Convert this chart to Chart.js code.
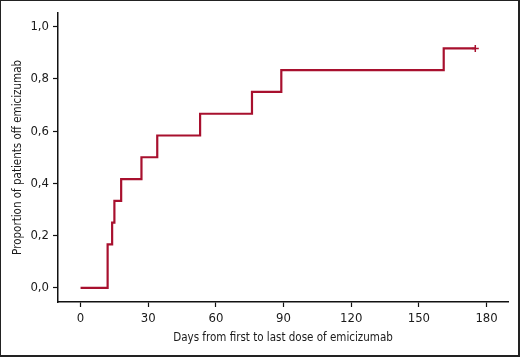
<!DOCTYPE html>
<html>
<head>
<meta charset="utf-8">
<script src="https://cdn.jsdelivr.net/npm/chart.js@4.4.0/dist/chart.umd.min.js"></script>
<style>
    body { margin: 0; background: #fff; }
    #quadro {
        width: 520px; height: 357px; box-sizing: border-box;
        border-top: 1px solid #222; border-left: 1px solid #222;
        border-right: 2px solid #222; border-bottom: 2px solid #222;
        position: relative;
    }
</style>
</head>
<body>
<div id="quadro"><canvas id="grafico"></canvas></div>
<script>
// dias do evento e proporção acumulada (12 pacientes)
var dias = [0, 12, 14, 15, 18, 27, 34, 53, 76, 89, 161, 175];
var proporcao = [0, 2/12, 3/12, 4/12, 5/12, 6/12, 7/12, 8/12, 9/12, 10/12, 11/12, 11/12];
// ponto censurado
var censuraDia = [175];
var censuraValor = [11/12];

var ticksX = [0, 30, 60, 90, 120, 150, 180];
var ticksY = [0, 0.2, 0.4, 0.6, 0.8, 1.0];

var fonte = "'Liberation Sans Narrow', 'DejaVu Sans Condensed', sans-serif";
var vermelho = '#a8102e';

var pontos = dias.map(function (d, i) { return { x: d, y: proporcao[i] }; });
var censura = censuraDia.map(function (d, i) { return { x: d, y: censuraValor[i] }; });

const ctx = document.getElementById('grafico');
ctx.width = 517; ctx.height = 354;

new Chart(ctx, {
    type: 'line',
    data: {
        datasets: [
            {
                data: pontos,
                borderColor: vermelho,
                borderWidth: 2.2,
                stepped: true,
                pointRadius: 0,
                fill: false
            },
            {
                type: 'scatter',
                data: censura,
                borderColor: vermelho,
                pointStyle: 'cross',
                pointRadius: 3.5,
                borderWidth: 1.5
            }
        ]
    },
    options: {
        responsive: false,
        animation: false,
        layout: { padding: { top: 10, right: 10, left: 0, bottom: 0 } },
        plugins: { legend: { display: false }, tooltip: { enabled: false } },
        scales: {
            x: {
                type: 'linear',
                min: -10,
                max: 189.5,
                afterBuildTicks: function (s) { s.ticks = ticksX.map(function (v) { return { value: v }; }); },
                afterFit: function (s) { s.height = 53; },
                grid: { drawOnChartArea: false, drawTicks: true, tickLength: 5, color: '#111', tickWidth: 1.2 },
                border: { display: true, color: '#111', width: 1.5 },
                ticks: { color: '#1a1a1a', font: { family: fonte, size: 13 }, padding: 4, maxRotation: 0 },
                title: { display: true, text: 'Days from first to last dose of emicizumab', color: '#1a1a1a', font: { family: fonte, size: 11.5 }, padding: { top: 4, bottom: 10 } }
            },
            y: {
                min: -0.054,
                max: 1.053,
                afterBuildTicks: function (s) { s.ticks = ticksY.map(function (v) { return { value: v }; }); },
                afterFit: function (s) { s.width = 57; },
                grid: { drawOnChartArea: false, drawTicks: true, tickLength: 5, color: '#111', tickWidth: 1.2 },
                border: { display: true, color: '#111', width: 1.5 },
                ticks: {
                    color: '#1a1a1a', font: { family: fonte, size: 13 }, padding: 4,
                    callback: function (v) { return v.toFixed(1).replace('.', ','); }
                },
                title: { display: true, text: 'Proportion of patients off emicizumab', color: '#1a1a1a', font: { family: fonte, size: 11.5 }, padding: { top: 10, bottom: 2 } }
            }
        }
    }
});
</script>
</body>
</html>
